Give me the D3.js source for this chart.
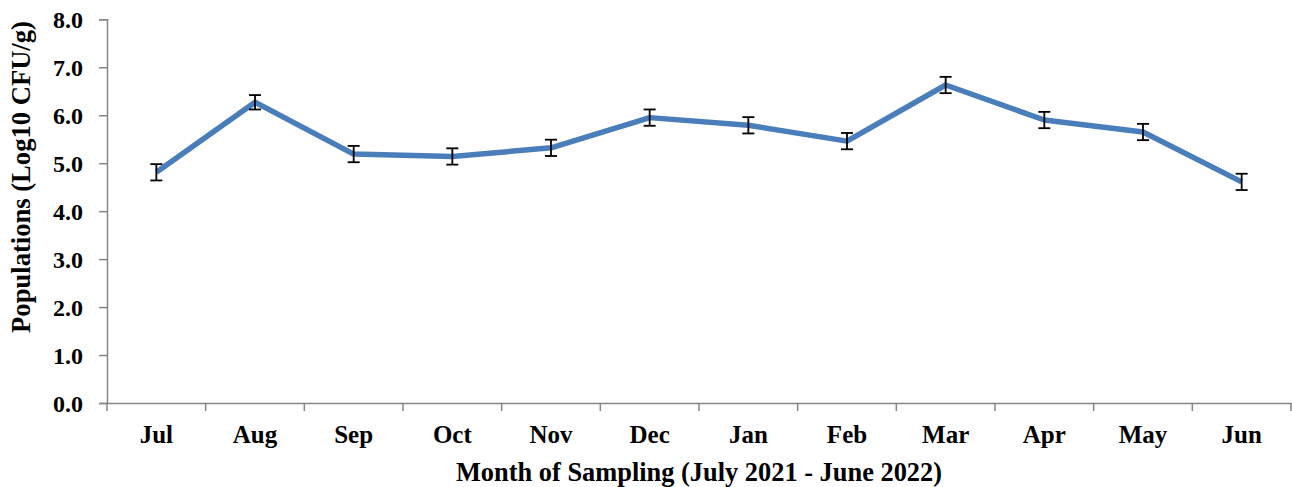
<!DOCTYPE html>
<html>
<head>
<meta charset="utf-8">
<script src="https://cdn.jsdelivr.net/npm/d3@7"></script>
<style>
  html, body { margin: 0; padding: 0; background: #fff; }
  svg text { font-family: "Liberation Serif", "Times New Roman", serif; font-weight: bold; fill: #000; }
</style>
</head>
<body>
<svg id="chart" width="1292" height="487"></svg>
<script>
const months = ["Jul","Aug","Sep","Oct","Nov","Dec","Jan","Feb","Mar","Apr","May","Jun"];
const values = [4.81, 6.27, 5.19, 5.14, 5.32, 5.95, 5.79, 5.46, 6.63, 5.90, 5.65, 4.61];
const errors = [0.17, 0.15, 0.17, 0.17, 0.17, 0.17, 0.17, 0.17, 0.17, 0.17, 0.17, 0.17];
const yTicks = [0, 1, 2, 3, 4, 5, 6, 7, 8];
const yTitle = "Populations (Log10 CFU/g)";
const xTitle = "Month of Sampling (July 2021 - June 2022)";

const svg = d3.select("#chart");
const mLeft = 107, mRight = 1291, mTop = 19.3, mBottom = 403;
const axisColor = "#868686";

const x = d3.scaleBand().domain(months).range([mLeft, mRight]).padding(0);
const y = d3.scaleLinear().domain([0, 8]).range([mBottom, mTop]);

// Y axis
const yAxis = svg.append("g").attr("transform", `translate(${mLeft},0)`)
  .call(d3.axisLeft(y).tickValues(yTicks).tickFormat(d3.format(".1f")).tickSize(8).tickPadding(16));
yAxis.select(".domain").attr("stroke", axisColor).attr("stroke-width", 1.5);
yAxis.selectAll(".tick line").attr("stroke", axisColor).attr("stroke-width", 1.5);
yAxis.selectAll(".tick text").style("font-size", "24px").attr("dy", "0.34em");

// X axis
const xAxis = svg.append("g").attr("transform", `translate(0,${mBottom})`)
  .call(d3.axisBottom(x).tickSize(0).tickPadding(22));
xAxis.select(".domain").attr("stroke", axisColor).attr("stroke-width", 1.5);
xAxis.selectAll(".tick text").style("font-size", "25px");
// boundary ticks between categories
const bounds = months.map(m => x(m)).concat([x(months[months.length - 1]) + x.bandwidth()]);
svg.append("g").selectAll("line").data(bounds).join("line")
  .attr("x1", d => d).attr("x2", d => d)
  .attr("y1", mBottom).attr("y2", mBottom + 8)
  .attr("stroke", axisColor).attr("stroke-width", 1.5);

// Line
const cx = (d, i) => x(months[i]) + x.bandwidth() / 2;
const line = d3.line().x((d, i) => cx(d, i)).y(d => y(d));
svg.append("path").datum(values)
  .attr("d", line)
  .attr("fill", "none")
  .attr("stroke", "#4a7ebb")
  .attr("stroke-width", 5.5)
  .attr("stroke-linejoin", "round");

// Error bars
const eb = svg.append("g").attr("stroke", "#000").attr("stroke-width", 1.8);
values.forEach((v, i) => {
  const xc = cx(v, i);
  const y1 = y(v + errors[i]), y2 = y(v - errors[i]);
  eb.append("line").attr("x1", xc).attr("x2", xc).attr("y1", y1).attr("y2", y2);
  eb.append("line").attr("x1", xc - 6).attr("x2", xc + 6).attr("y1", y1).attr("y2", y1);
  eb.append("line").attr("x1", xc - 6).attr("x2", xc + 6).attr("y1", y2).attr("y2", y2);
});

// Titles
svg.append("text")
  .attr("transform", `translate(30,177) rotate(-90)`)
  .attr("text-anchor", "middle")
  .style("font-size", "26.6px")
  .text(yTitle);

svg.append("text")
  .attr("x", (mLeft + mRight) / 2)
  .attr("y", 481)
  .attr("text-anchor", "middle")
  .style("font-size", "26.4px")
  .text(xTitle);
</script>
</body>
</html>
